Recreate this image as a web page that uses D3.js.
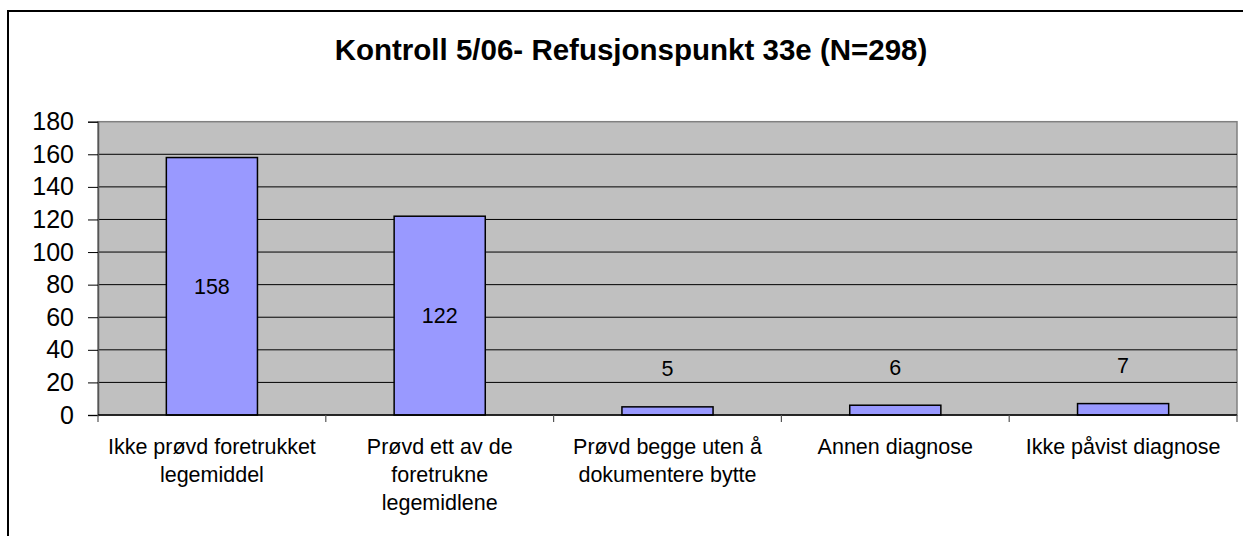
<!DOCTYPE html>
<html><head><meta charset="utf-8">
<script src="https://cdn.jsdelivr.net/npm/d3@7/dist/d3.min.js"></script>
<style>html,body{margin:0;padding:0;background:#fff;overflow:hidden}</style>
</head><body>
<svg id="c" width="1243" height="536"></svg>
<script>
const title = "Kontroll 5/06- Refusjonspunkt 33e (N=298)";
const categories = [
  ["Ikke prøvd foretrukket", "legemiddel"],
  ["Prøvd ett av de", "foretrukne", "legemidlene"],
  ["Prøvd begge uten å", "dokumentere bytte"],
  ["Annen diagnose"],
  ["Ikke påvist diagnose"]
];
const values = [158, 122, 5, 6, 7];
const yTicks = [0, 20, 40, 60, 80, 100, 120, 140, 160, 180];

const svg = d3.select("#c");
const font = "'Liberation Sans', Arial, sans-serif";
const L = 98, R = 1237, T = 121.7, B = 415;

// outer chart border
svg.append("rect").attr("x", 8).attr("y", 11).attr("width", 1260).attr("height", 560)
  .attr("fill", "#fff").attr("stroke", "#000").attr("stroke-width", 2);

svg.append("text").attr("x", 631).attr("y", 60).attr("text-anchor", "middle")
  .attr("font-family", font).attr("font-weight", "bold").attr("font-size", 29.5)
  .text(title);

const x = d3.scaleBand().domain(d3.range(values.length)).range([L, R]).paddingInner(0.6).paddingOuter(0.3);
const xb = d3.scaleBand().domain(d3.range(values.length)).range([L, R]);
const y = d3.scaleLinear().domain([0, 180]).range([B, T]);

svg.append("rect").attr("x", L).attr("y", T).attr("width", R - L).attr("height", B - T)
  .attr("fill", "#c0c0c0").attr("stroke", "#808080").attr("stroke-width", 1.5);

svg.append("g").selectAll("line").data(yTicks.filter(d => d > 0 && d < 180)).join("line")
  .attr("x1", L).attr("x2", R).attr("y1", d => y(d)).attr("y2", d => y(d))
  .attr("stroke", "#000").attr("stroke-width", 1);

// y axis
const ya = svg.append("g").attr("transform", `translate(${L},0)`)
  .call(d3.axisLeft(y).tickValues(yTicks).tickSize(10).tickPadding(14));
ya.select(".domain").attr("stroke", "#555").attr("stroke-width", 1.5);
ya.selectAll(".tick line").attr("stroke", "#000");
ya.selectAll(".tick text").attr("font-family", font).attr("font-size", 25).attr("fill", "#000");

// bars
svg.append("g").selectAll("rect").data(values).join("rect")
  .attr("x", (d, i) => x(i)).attr("width", x.bandwidth())
  .attr("y", d => y(d)).attr("height", d => B - y(d))
  .attr("fill", "#9999ff").attr("stroke", "#000").attr("stroke-width", 1.5);

// x axis
svg.append("line").attr("x1", L).attr("x2", R).attr("y1", B).attr("y2", B)
  .attr("stroke", "#000").attr("stroke-width", 1.5);
svg.append("g").selectAll("line").data(d3.range(values.length + 1)).join("line")
  .attr("x1", i => i < values.length ? xb(i) : R).attr("x2", i => i < values.length ? xb(i) : R)
  .attr("y1", B).attr("y2", B + 7).attr("stroke", "#555").attr("stroke-width", 1.2);

// value labels
svg.append("g").selectAll("text").data(values).join("text")
  .attr("x", (d, i) => x(i) + x.bandwidth() / 2)
  .attr("y", d => (B - y(d) > 60 ? (y(d) + B) / 2 : y(d) - 38))
  .attr("dy", "0.35em").attr("text-anchor", "middle")
  .attr("font-family", font).attr("font-size", 21.5).text(d => d);

// category labels
const cl = svg.append("g").selectAll("text").data(categories).join("text")
  .attr("x", (d, i) => xb(i) + xb.bandwidth() / 2).attr("y", 454)
  .attr("text-anchor", "middle").attr("font-family", font).attr("font-size", 21.5);
cl.selectAll("tspan").data(d => d).join("tspan")
  .attr("x", function() { return this.parentNode.getAttribute("x"); })
  .attr("dy", (d, j) => j === 0 ? 0 : 28).text(d => d);
</script>
</body></html>
